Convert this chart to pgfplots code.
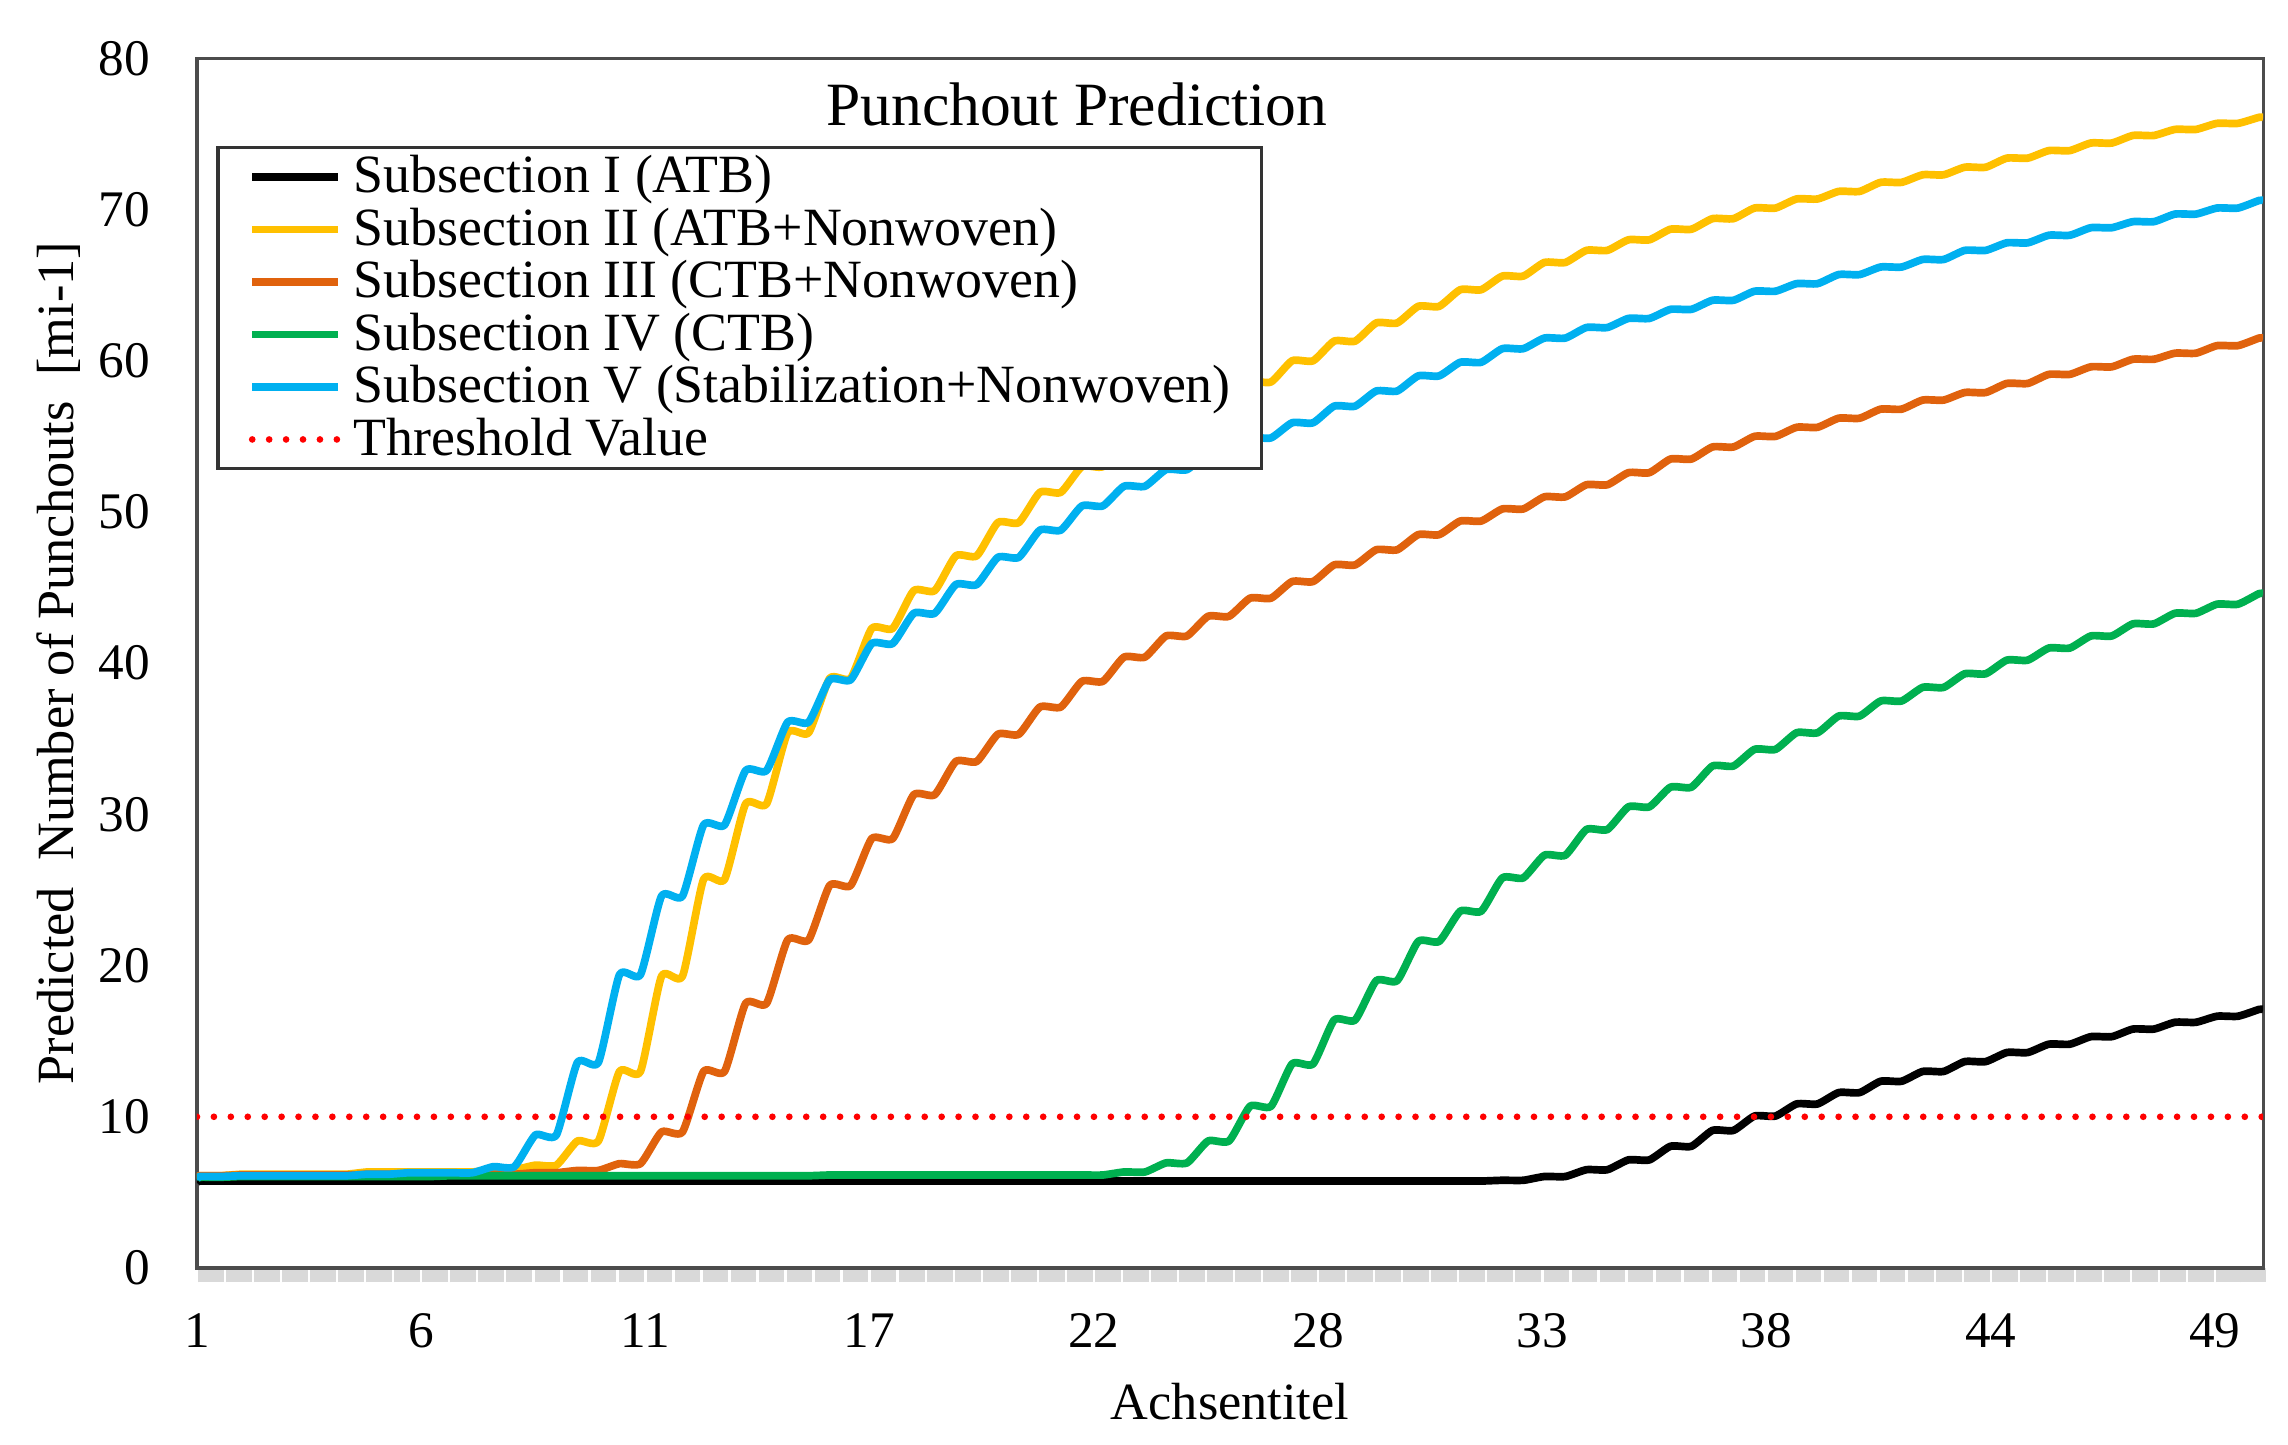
\documentclass[border=0pt]{standalone}
\usepackage{fontspec}
\setmainfont{Liberation Serif}
\usepackage{pgfplots}
\usepackage{pgfplotstable}
\pgfplotsset{compat=1.18}

\definecolor{sII}{HTML}{FFC000}
\definecolor{sIII}{HTML}{E0620D}
\definecolor{sIV}{HTML}{00B050}
\definecolor{sV}{HTML}{00B0F0}
\definecolor{band}{HTML}{D9D9D9}

% yearly plateaus (plateau from n+0.05 to n+0.55, then rise)
\pgfplotstableread{
x     I     II    III   IV    V
1.00  5.60  5.90  5.90  5.80  5.80
1.05  5.75  6.10  6.10  6.00  6.05
1.55  5.75  6.10  6.10  6.00  6.05
2.05  5.75  6.20  6.15  6.05  6.10
2.55  5.75  6.20  6.15  6.05  6.10
3.05  5.75  6.20  6.15  6.05  6.10
3.55  5.75  6.20  6.15  6.05  6.10
4.05  5.75  6.20  6.15  6.05  6.10
4.55  5.75  6.20  6.15  6.05  6.10
5.05  5.75  6.35  6.20  6.05  6.20
5.55  5.75  6.35  6.20  6.05  6.20
6.05  5.75  6.35  6.20  6.05  6.30
6.55  5.75  6.35  6.20  6.05  6.30
7.05  5.75  6.35  6.20  6.10  6.30
7.55  5.75  6.35  6.20  6.10  6.30
8.05  5.75  6.50  6.20  6.10  6.70
8.55  5.75  6.50  6.20  6.10  6.70
9.05  5.75  6.80  6.30  6.10  8.80
9.55  5.75  6.80  6.30  6.10  8.80
10.05 5.75  8.40  6.45  6.10  13.60
10.55 5.75  8.40  6.45  6.10  13.60
11.05 5.75  13.00 6.90  6.10  19.40
11.55 5.75  13.00 6.90  6.10  19.40
12.05 5.75  19.30 9.00  6.10  24.60
12.55 5.75  19.30 9.00  6.10  24.60
13.05 5.75  25.70 13.00 6.10  29.30
13.55 5.75  25.70 13.00 6.10  29.30
14.05 5.75  30.70 17.50 6.10  32.90
14.55 5.75  30.70 17.50 6.10  32.90
15.05 5.75  35.40 21.70 6.10  36.10
15.55 5.75  35.40 21.70 6.10  36.10
16.05 5.75  39.00 25.30 6.15  38.90
16.55 5.75  39.00 25.30 6.15  38.90
17.05 5.75  42.30 28.40 6.15  41.30
17.55 5.75  42.30 28.40 6.15  41.30
18.05 5.75  44.80 31.30 6.15  43.30
18.55 5.75  44.80 31.30 6.15  43.30
19.05 5.75  47.10 33.50 6.15  45.20
19.55 5.75  47.10 33.50 6.15  45.20
20.05 5.75  49.30 35.30 6.15  47.00
20.55 5.75  49.30 35.30 6.15  47.00
21.05 5.75  51.30 37.10 6.15  48.80
21.55 5.75  51.30 37.10 6.15  48.80
22.05 5.75  53.00 38.80 6.15  50.40
22.55 5.75  53.00 38.80 6.15  50.40
23.05 5.75  54.50 40.40 6.35  51.70
23.55 5.75  54.50 40.40 6.35  51.70
24.05 5.75  55.90 41.80 6.95  52.80
24.55 5.75  55.90 41.80 6.95  52.80
25.05 5.75  57.30 43.10 8.40  53.90
25.55 5.75  57.30 43.10 8.40  53.90
26.05 5.75  58.60 44.30 10.70 54.90
26.55 5.75  58.60 44.30 10.70 54.90
27.05 5.75  60.00 45.40 13.50 55.90
27.55 5.75  60.00 45.40 13.50 55.90
28.05 5.75  61.30 46.50 16.40 57.00
28.55 5.75  61.30 46.50 16.40 57.00
29.05 5.75  62.50 47.50 19.00 58.00
29.55 5.75  62.50 47.50 19.00 58.00
30.05 5.75  63.60 48.50 21.60 59.00
30.55 5.75  63.60 48.50 21.60 59.00
31.05 5.75  64.70 49.40 23.60 59.90
31.55 5.75  64.70 49.40 23.60 59.90
32.05 5.80  65.60 50.20 25.80 60.80
32.55 5.80  65.60 50.20 25.80 60.80
33.05 6.05  66.50 51.00 27.30 61.50
33.55 6.05  66.50 51.00 27.30 61.50
34.05 6.50  67.30 51.80 29.00 62.20
34.55 6.50  67.30 51.80 29.00 62.20
35.05 7.15  68.00 52.60 30.50 62.80
35.55 7.15  68.00 52.60 30.50 62.80
36.05 8.05  68.70 53.50 31.80 63.40
36.55 8.05  68.70 53.50 31.80 63.40
37.05 9.10  69.40 54.30 33.20 64.00
37.55 9.10  69.40 54.30 33.20 64.00
38.05 10.05 70.10 55.00 34.30 64.60
38.55 10.05 70.10 55.00 34.30 64.60
39.05 10.85 70.70 55.60 35.40 65.10
39.55 10.85 70.70 55.60 35.40 65.10
40.05 11.60 71.20 56.20 36.50 65.70
40.55 11.60 71.20 56.20 36.50 65.70
41.05 12.35 71.80 56.80 37.50 66.20
41.55 12.35 71.80 56.80 37.50 66.20
42.05 13.00 72.30 57.40 38.40 66.70
42.55 13.00 72.30 57.40 38.40 66.70
43.05 13.65 72.80 57.90 39.30 67.30
43.55 13.65 72.80 57.90 39.30 67.30
44.05 14.25 73.40 58.50 40.20 67.80
44.55 14.25 73.40 58.50 40.20 67.80
45.05 14.80 73.90 59.10 41.00 68.30
45.55 14.80 73.90 59.10 41.00 68.30
46.05 15.30 74.40 59.60 41.80 68.80
46.55 15.30 74.40 59.60 41.80 68.80
47.05 15.80 74.90 60.10 42.60 69.20
47.55 15.80 74.90 60.10 42.60 69.20
48.05 16.25 75.30 60.50 43.30 69.70
48.55 16.25 75.30 60.50 43.30 69.70
49.05 16.65 75.70 61.00 43.90 70.10
49.55 16.65 75.70 61.00 43.90 70.10
50.05 17.10 76.10 61.50 44.60 70.60
50.15 17.10 76.10 61.50 44.60 70.60
}\punch

\begin{document}
\begin{tikzpicture}
\begin{axis}[
  scale only axis,
  width=14.16cm, height=8.29cm,
  xmin=1, xmax=50.15, ymin=0, ymax=80,
  xtick={1,6.3333,11.6667,17,22.3333,27.6667,33,38.3333,43.6667,49},
  xticklabels={1,6,11,17,22,28,33,38,44,49},
  minor xtick={1.3333,2,...,49.4,49.9},
  ytick={0,10,...,80},
  xtick pos=lower, ytick pos=lower,
  tick align=outside,
  major tick length=0pt,
  minor tick length=2.8pt,
  minor x tick style={draw=band, line width=5.0pt},
  axis line style={draw=black!70, line width=0.6pt},
  x axis line style={draw=none},
  /pgf/number format/assume math mode=true,
  tick label style={font=\fontsize{10}{12}\selectfont},
  xticklabel style={yshift=-1.9mm},
  yticklabel style={xshift=-2.0mm},
  label style={font=\fontsize{10.2}{12}\selectfont},
  ylabel style={yshift=-1.2mm},
  xlabel={Achsentitel},
  ylabel={Predicted\ \ Number of Punchouts\ \ [mi-1]},
  legend cell align=left,
  legend style={at={(0,1)}, anchor=north west, xshift=1.3mm, yshift=-6.0mm,
    draw=black!80, line width=0.7pt, font=\fontsize{10.5}{12}\selectfont,
    inner xsep=2.1mm, inner ysep=0.2mm, row sep=0pt, column sep=0.8mm,
    nodes={inner sep=0pt, text height=8.2pt, text depth=2.04pt}},
  legend image code/.code={\draw[#1] (0mm,0mm) -- (5.9mm,0mm);},
  every axis plot/.append style={line join=round, mark=none},
]
\coordinate (pbl) at (rel axis cs:0,0);
\coordinate (ptr) at (rel axis cs:1,1);
\draw[black!70, line width=0.6pt] (rel axis cs:0,1) -- (rel axis cs:1,1);

\addplot[black, line width=1.5pt, smooth, tension=0.35] table[x=x, y=I] {\punch};
\addlegendentry{Subsection I (ATB)}
\addplot[sII, line width=1.5pt, smooth, tension=0.35] table[x=x, y=II] {\punch};
\addlegendentry{Subsection II (ATB+Nonwoven)}
\addplot[sIII, line width=1.5pt, smooth, tension=0.35] table[x=x, y=III] {\punch};
\addlegendentry{Subsection III (CTB+Nonwoven)}
\addplot[sIV, line width=1.5pt, smooth, tension=0.35] table[x=x, y=IV] {\punch};
\addlegendentry{Subsection IV (CTB)}
\addplot[sV, line width=1.5pt, smooth, tension=0.35] table[x=x, y=V] {\punch};
\addlegendentry{Subsection V (Stabilization+Nonwoven)}
\addplot[red, line width=1.3pt, line cap=round, dash pattern=on 0pt off 3.3pt]
  coordinates {(1,10) (50.15,10)};
\addlegendentry{Threshold Value}

\node[anchor=base, font=\fontsize{12}{14}\selectfont, yshift=-4.6mm]
  at (rel axis cs:0.4258,1) {Punchout Prediction};
\end{axis}
\pgfresetboundingbox
\path ([xshift=-13.5mm, yshift=-12.1mm]pbl) rectangle ([xshift=1.7mm, yshift=4.0mm]ptr);
\end{tikzpicture}
\end{document}
